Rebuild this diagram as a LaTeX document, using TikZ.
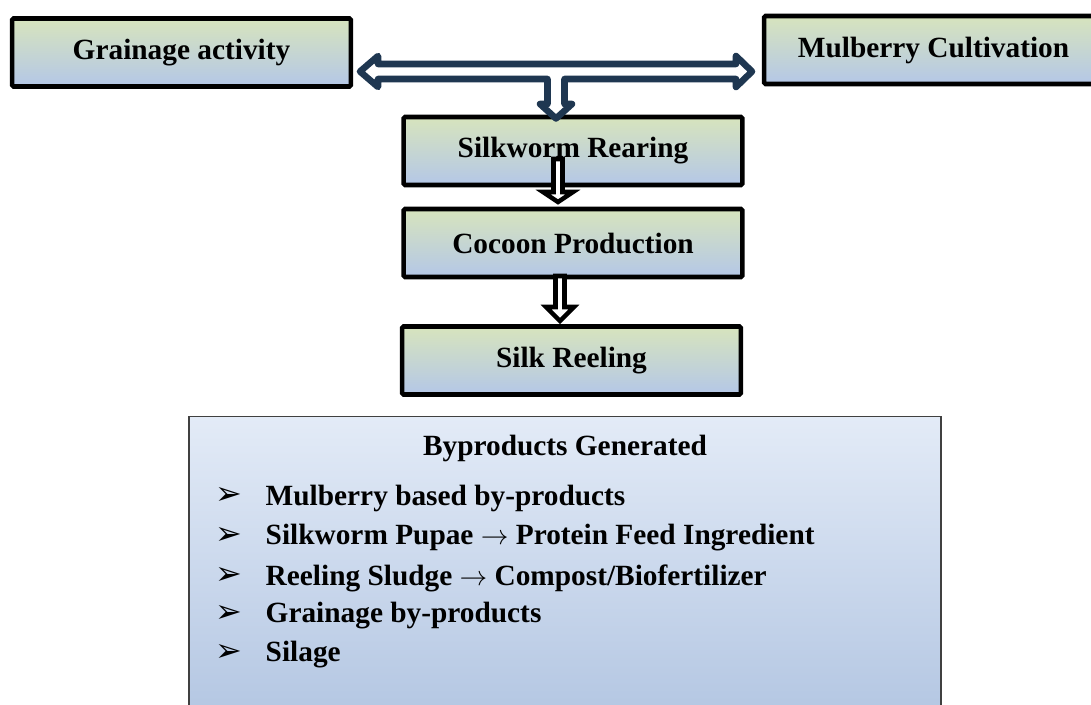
\documentclass[tikz,border=0pt]{standalone}
\usepackage{fontspec}
\setmainfont{Liberation Serif}
\newfontfamily\dejavu{DejaVu Sans}
\usetikzlibrary{arrows.meta}
\definecolor{boxgreen}{HTML}{D7E4BD}
\definecolor{boxblue}{HTML}{B4C7E7}
\definecolor{bylight}{HTML}{E3EBF7}
\definecolor{bydark}{HTML}{B3C6E2}
\definecolor{navyline}{HTML}{1F3751}
\newcommand{\toarr}{$\rightarrow$}

\begin{document}
\begin{tikzpicture}[x=0.75pt,y=-0.75pt,
    stage/.style={draw=black, line width=3.4pt, rounded corners=1pt,
        top color=boxgreen, bottom color=boxblue,
        minimum width=254pt, minimum height=51pt,
        font=\fontsize{22}{26}\selectfont\bfseries},
    bybox/.style={draw=black!75, line width=1pt, top color=bylight, bottom color=bydark,
        minimum width=564pt, minimum height=227pt},
    bytext/.style={font=\fontsize{22}{26}\selectfont\bfseries},
    tick/.style={font=\dejavu\fontsize{24}{26}\selectfont},
    hollow/.style={draw=black, fill=white, line width=3.4pt, line join=miter},
    bigarrow/.style={draw=navyline, fill=white, line width=4.9pt, line join=round}]
    \clip (0,0) rectangle (1091,704);
    \useasboundingbox (0,0) rectangle (1091,704);

    \node[stage] (GA) at (181.5,52.5) {Grainage activity};
    \node[stage] (MC) at (933.5,50) {Mulberry Cultivation};
    \node[stage] (SR) at (573,151) {Silkworm Rearing};
    \node[stage] (CP) at (573,243) {Cocoon Production};
    \node[stage] (SL) at (571.5,360.5) {Silk Reeling};

    \node[bybox] (BY) at (565,568) {};
    \node[bytext] (BY0) at (565,448) {Byproducts Generated};
    \node[tick] (K1) at (229,496) {➢};
    \node[bytext,right] (BY1) at (261,498) {Mulberry based by-products};
    \node[tick] (K2) at (229,536) {➢};
    \node[bytext,right] (BY2) at (261,538) {Silkworm Pupae \toarr{} Protein Feed Ingredient};
    \node[tick] (K3) at (229,576) {➢};
    \node[bytext,right] (BY3) at (261,578) {Reeling Sludge \toarr{} Compost/Biofertilizer};
    \node[tick] (K4) at (229,614) {➢};
    \node[bytext,right] (BY4) at (261,616) {Grainage by-products};
    \node[tick] (K5) at (229,653) {➢};
    \node[bytext,right] (BY5) at (261,655) {Silage};

    % double arrow between the two inputs, branch down to rearing
    \coordinate (TM) at (556,71.5);
    \draw[bigarrow, shift={(TM)}] (-196,0) -- (-178,-15.5) -- (-178,-7.5) -- (180,-7.5)
        -- (180,-15.5) -- (196,0) -- (180,15.5) -- (180,7.5) -- (8.5,7.5) -- (8.5,32.5)
        -- (16,32.5) -- (0,47) -- (-16,32.5) -- (-8.5,32.5) -- (-8.5,7.5) -- (-178,7.5)
        -- (-178,15.5) -- cycle;

    % stage to stage
    \coordinate (A1) at (558,159);
    \coordinate (A2) at (560,276);
    \draw[hollow, shift={(A1)}] (-4.5,0) -- (4.5,0) -- (4.5,33) -- (15,33) -- (0,43)
        -- (-15,33) -- (-4.5,33) -- cycle;
    \draw[hollow, shift={(A2)}] (-4.5,0) -- (4.5,0) -- (4.5,31) -- (14,31) -- (0,45)
        -- (-14,31) -- (-4.5,31) -- cycle;
\end{tikzpicture}
\end{document}
